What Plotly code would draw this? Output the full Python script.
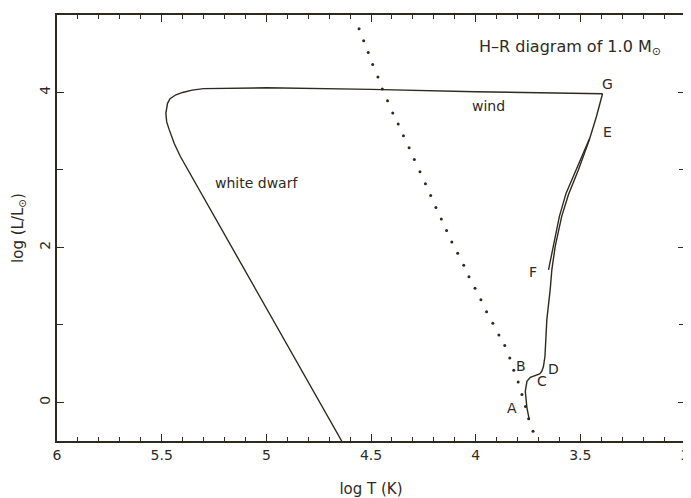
import plotly.graph_objects as go

# ---- data ----
# main evolutionary track: A -> B/C/D -> red giant branch -> G
track_x = [3.744, 3.755, 3.763, 3.755, 3.739, 3.715, 3.694, 3.684, 3.676, 3.669, 3.665,
           3.660, 3.644, 3.636, 3.620, 3.589, 3.557, 3.509, 3.457, 3.423, 3.394]
track_y = [-0.223, -0.072, 0.142, 0.271, 0.323, 0.348, 0.366, 0.400, 0.465, 0.594, 0.809,
           1.067, 1.454, 1.712, 2.013, 2.400, 2.680, 3.003, 3.390, 3.690, 3.983]

# second branch: F -> E
branch_x = [3.652, 3.628, 3.600, 3.568, 3.521, 3.465, 3.457]
branch_y = [1.710, 2.013, 2.400, 2.700, 3.003, 3.370, 3.400]

# wind phase and white dwarf cooling: G -> left -> down
wd_x = [3.394, 3.700, 4.000, 4.500, 5.000, 5.300, 5.354, 5.400, 5.432, 5.460, 5.472,
        5.480, 5.476, 5.464, 5.440, 5.410, 4.640]
wd_y = [3.983, 3.995, 4.010, 4.040, 4.060, 4.050, 4.030, 4.000, 3.970, 3.920, 3.860,
        3.730, 3.620, 3.520, 3.340, 3.170, -0.500]

# dotted line
dot_x = [4.557, 4.535, 4.513, 4.492, 4.467, 4.446, 4.421, 4.396, 4.370, 4.345, 4.318,
         4.293, 4.266, 4.240, 4.215, 4.190, 4.164, 4.139, 4.114, 4.086, 4.057, 4.032,
         4.003, 3.975, 3.948, 3.918, 3.889, 3.861, 3.837, 3.818, 3.797, 3.779, 3.762,
         3.747, 3.726]
dot_y = [4.822, 4.667, 4.516, 4.361, 4.199, 4.044, 3.893, 3.734, 3.592, 3.441, 3.286,
         3.135, 2.977, 2.822, 2.671, 2.516, 2.366, 2.219, 2.070, 1.923, 1.768, 1.622,
         1.471, 1.325, 1.170, 1.019, 0.870, 0.732, 0.573, 0.413, 0.263, 0.099, -0.055,
         -0.214, -0.374]

# point labels
label_text = ["A", "B", "C", "D", "E", "F", "G"]
label_x = [3.826, 3.783, 3.685, 3.627, 3.370, 3.726, 3.370]
label_y = [-0.08, 0.47, 0.28, 0.43, 3.49, 1.68, 4.11]

x_range = [6, 3]
y_range = [-0.5, 5]
x_tickvals = [6, 5.5, 5, 4.5, 4, 3.5, 3]
x_ticktext = ["6", "5.5", "5", "4.5", "4", "3.5", "3"]
y_tickvals = [0, 2, 4]
y_ticktext = ["0", "2", "4"]

INK = "#2e2a1e"
FONT = "DejaVu Sans"

fig = go.Figure()
line_style = dict(color=INK, width=1.4)
fig.add_trace(go.Scatter(x=track_x, y=track_y, mode="lines", line=line_style, hoverinfo="skip"))
fig.add_trace(go.Scatter(x=branch_x, y=branch_y, mode="lines", line=line_style, hoverinfo="skip"))
fig.add_trace(go.Scatter(x=wd_x, y=wd_y, mode="lines", line=line_style, hoverinfo="skip"))
fig.add_trace(go.Scatter(x=dot_x, y=dot_y, mode="markers",
                         marker=dict(color=INK, size=3), hoverinfo="skip"))

for t, xx, yy in zip(label_text, label_x, label_y):
    fig.add_annotation(x=xx, y=yy, text=t, showarrow=False,
                       font=dict(family=FONT, size=14, color=INK))

fig.add_annotation(x=3.94, y=3.83, text="wind", showarrow=False,
                   font=dict(family=FONT, size=14, color=INK))
fig.add_annotation(x=5.046, y=2.83, text="white dwarf", showarrow=False,
                   font=dict(family=FONT, size=14, color=INK))
fig.add_annotation(x=3.995, y=4.58, text="H\u2013R diagram of 1.0 M<sub>\u2299</sub>",
                   showarrow=False, xanchor="left",
                   font=dict(family=FONT, size=16, color=INK))

axis_common = dict(showgrid=False, zeroline=False, showline=True, linecolor=INK,
                   linewidth=2, mirror="ticks", ticks="inside", tickcolor=INK,
                   tickwidth=1.2, ticklen=7,
                   tickfont=dict(family=FONT, size=14, color=INK))

# the page body has an 8px default margin, so the figure is sized to fit the window
fig.update_layout(
    width=683, height=490,
    margin=dict(l=49, r=2, t=7, b=57),
    paper_bgcolor="white", plot_bgcolor="white",
    showlegend=False,
    xaxis=dict(range=x_range, tickvals=x_tickvals, ticktext=x_ticktext,
               ticklabeloverflow="allow",
               minor=dict(dtick=0.1, ticks="inside", ticklen=4, tickcolor=INK, tickwidth=1),
               title=dict(text="log T (K)", font=dict(family=FONT, size=15, color=INK),
                          standoff=22),
               **axis_common),
    yaxis=dict(range=y_range, tickvals=y_tickvals, ticktext=y_ticktext, tickangle=-90,
               ticklabelstandoff=-1,
               minor=dict(dtick=1, ticks="inside", ticklen=6, tickcolor=INK, tickwidth=1),
               title=dict(text="log (L/L<sub>\u2299</sub>)",
                          font=dict(family=FONT, size=15, color=INK), standoff=10),
               **axis_common),
)

fig.write_html("out.html")
